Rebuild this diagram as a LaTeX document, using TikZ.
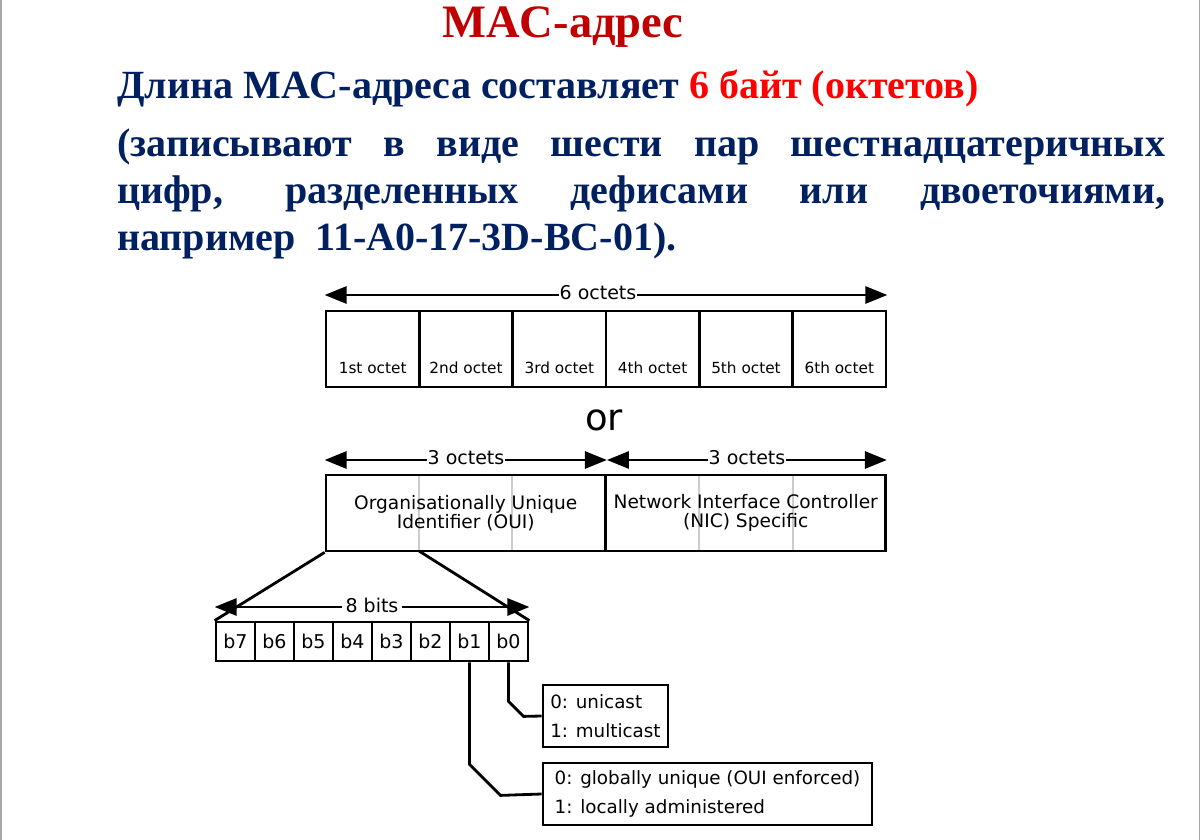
\documentclass[tikz,border=0pt]{standalone}
\usepackage{fontspec}
\setmainfont{Liberation Serif}
\newfontfamily\diagfont{DejaVu Sans}
\usetikzlibrary{arrows.meta,calc}
\definecolor{navy}{HTML}{002060}
\definecolor{titlered}{HTML}{C00000}
\definecolor{brightred}{HTML}{FF0000}
\definecolor{cellgrey}{HTML}{CCCCCC}
\definecolor{edgegrey}{HTML}{A6A6A6}

\begin{document}
\begin{tikzpicture}[x=1pt,y=-1pt,
  heading/.style={inner sep=0pt,anchor=base west,text=navy,
    font=\fontsize{40pt}{46pt}\selectfont\bfseries},
  frame/.style={draw=black,line width=2.8pt,inner sep=0pt},
  octcell/.style={frame,minimum width=93.33pt,minimum height=76pt},
  bitcell/.style={frame,minimum width=39pt,minimum height=39pt,
    font=\diagfont\fontsize{19pt}{19pt}\selectfont},
  octlabel/.style={inner sep=0pt,font=\diagfont\fontsize{15.3pt}{15pt}\selectfont},
  dimlabel/.style={fill=white,inner xsep=1pt,inner ysep=0pt,
    font=\diagfont\fontsize{19pt}{19pt}\selectfont},
  dimline/.style={line width=2.8pt,{Triangle[length=22pt,width=17pt]}-{Triangle[length=22pt,width=17pt]}},
  wire/.style={line width=2.8pt},
  partbox/.style={frame,minimum width=279.5pt,minimum height=76pt,align=center,
    font=\diagfont\fontsize{18.6pt}{19pt}\selectfont},
  legend/.style={frame,align=left,font=\diagfont\fontsize{18.3pt}{28.5pt}\selectfont}
]
\useasboundingbox (0,0) rectangle (1202,840);
\fill[white] (0,0) rectangle (1202,840);
\draw[edgegrey,line width=1.5pt] (0.75,0) -- (0.75,840);
\draw[edgegrey,line width=1.5pt] (1199.5,0) -- (1199.5,840);

% headings
\node[inner sep=0pt,anchor=base,text=titlered,
  font=\fontsize{46.5pt}{50pt}\selectfont\bfseries] (title) at (563,38) {MAC-адрес};
\node[heading] (len) at (117,99) {Длина MAC-адреса составляет \textcolor{brightred}{6 байт (октетов)}};
\node[heading] (p1) at (117,157) {\makebox[1048pt][s]{(записывают в виде шести пар шестнадцатеричных}};
\node[heading] (p2) at (117,203) {\makebox[1048pt][s]{цифр, разделенных дефисами или двоеточиями,}};
\node[heading] (p3) at (117,250) {например\ \ 11-A0-17-3D-BC-01).};

% six octets
\foreach \i/\t in {1/1st,2/2nd,3/3rd,4/4th,5/5th,6/6th}{
  \node[octcell] (o\i) at ({326+93.33*(\i-0.5)},349) {};
  \node[octlabel] (ol\i) at ($(o\i.center)+(0,19)$) {\t\ octet};
}
\coordinate (a6l) at (o1.north west |- 0,295);
\coordinate (a6r) at (o6.north east |- 0,295);
\draw[dimline] (a6l) -- (a6r);
\node[dimlabel] (l6) at (598,293) {6 octets};

\node[inner sep=0pt,font=\diagfont\fontsize{37pt}{37pt}\selectfont] (or) at (604,420) {or};

% OUI / NIC split
\foreach \x in {419,512,699,793}{
  \draw[cellgrey,line width=2.8pt] (\x,475) -- (\x,551);
}
\node[partbox] (oui) at (465.75,513) {Organisationally Unique\\Identifier (OUI)};
\node[partbox] (nic) at (745.75,513) {Network Interface Controller\\(NIC) Specific};
\coordinate (a3l) at (oui.north west |- 0,460);
\coordinate (a3m) at (oui.north east |- 0,460);
\coordinate (a3r) at (nic.north east |- 0,460);
\draw[dimline] (a3l) -- (a3m);
\draw[dimline] (a3m) -- (a3r);
\node[dimlabel] (l3a) at (466,458) {3 octets};
\node[dimlabel] (l3b) at (747,458) {3 octets};

% eight bits of the first octet
\foreach \i/\b in {0/b7,1/b6,2/b5,3/b4,4/b3,5/b2,6/b1,7/b0}{
  \node[bitcell] (\b) at ({216+39*(\i+0.5)},641.5) {\b};
}
\coordinate (ouisplit) at (419,551);
\draw[wire] (oui.south west) -- (b7.north west);
\draw[wire] (ouisplit) -- (b0.north east);
\coordinate (a8l) at (b7.north west |- 0,607);
\coordinate (a8r) at (b0.north east |- 0,607);
\draw[dimline] (a8l) -- (a8r);
\node[dimlabel,inner xsep=4pt] (l8) at (372,605) {8 bits};

% bit meanings
\node[legend,minimum width=125pt,minimum height=62pt] (ucast) at (605.5,716) {0: unicast\\1: multicast};
\node[legend,minimum width=329pt,minimum height=62pt] (lcl) at (707.5,794) {0: globally unique (OUI enforced)\\1: locally administered};
\draw[wire] (b0.south) -- ++(0,39) -- ++(15,15) -- (ucast.west);
\draw[wire] (b1.south) -- ++(0,102) -- ++(31,31) -- (lcl.west);
\end{tikzpicture}
\end{document}
